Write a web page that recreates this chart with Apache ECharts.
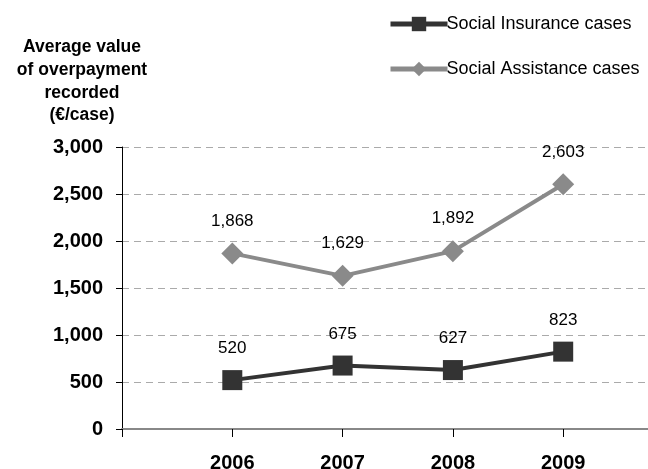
<!DOCTYPE html>
<html><head><meta charset="utf-8">
<script src="https://cdn.jsdelivr.net/npm/echarts@6/dist/echarts.min.js"></script>
<style>html,body{margin:0;padding:0;background:#fff}#c{width:648px;height:469px}</style>
</head><body><div id="c"></div>
<script>
const years = ['2006', '2007', '2008', '2009'];
const insurance = [520, 675, 627, 823];
const assistance = [1868, 1629, 1892, 2603];
const yTicks = [0, 500, 1000, 1500, 2000, 2500, 3000];
const seriesNames = ['Social Insurance cases', 'Social Assistance cases'];
const yTitle = 'Average value\nof overpayment\nrecorded\n(€/case)';

const cats = [''].concat(years).concat(['']);
const fmt = v => String(v).replace(/\B(?=(\d{3})+(?!\d))/g, ',');
const FF = 'Liberation Sans, Arial, sans-serif';
const chart = echarts.init(document.getElementById('c'));
chart.setOption({
  animation: false,
  textStyle: { fontFamily: FF },
  title: {
    text: yTitle, left: 77, top: 31, textAlign: 'center',
    textStyle: { fontSize: 17.5, fontWeight: 'bold', color: '#000', lineHeight: 22.7, fontFamily: FF }
  },
  legend: {
    orient: 'vertical', left: 383, top: 10, itemGap: 27, itemWidth: 57, itemHeight: 18,
    textStyle: { fontSize: 18, color: '#000', padding: [0, 0, 0, -6] },
    data: [
      { name: seriesNames[0], itemStyle: { color: '#333' }, lineStyle: { width: 5 } },
      { name: seriesNames[1], itemStyle: { color: '#8a8a8a' }, lineStyle: { width: 5 } }
    ]
  },
  grid: { left: 122, right: -25.5, top: 147, bottom: 40, outerBoundsMode: 'none', containLabel: false },
  xAxis: {
    type: 'category', data: cats, boundaryGap: false,
    axisLine: { lineStyle: { color: '#888', width: 2 } },
    axisTick: { show: true, length: 8, lineStyle: { color: '#000', width: 1 } },
    axisLabel: { interval: 0, margin: 24, fontSize: 20, fontWeight: 'bold', color: '#000' },
    splitLine: { show: false }
  },
  yAxis: {
    type: 'value', min: yTicks[0], max: yTicks[yTicks.length - 1], interval: yTicks[1] - yTicks[0],
    axisLine: { show: true, lineStyle: { color: '#000', width: 1 } },
    axisTick: { show: true, length: 6, lineStyle: { color: '#000' } },
    axisLabel: { margin: 19, fontSize: 20, fontWeight: 'bold', color: '#000', formatter: v => fmt(v) },
    splitLine: { show: true, lineStyle: { color: '#aaa', type: [7, 5], width: 1 } }
  },
  series: [
    {
      name: seriesNames[0], type: 'line',
      data: years.map((y, i) => [y, insurance[i]]),
      symbol: 'rect', symbolSize: 20,
      itemStyle: { color: '#333' }, lineStyle: { color: '#333', width: 4 },
      label: { show: true, position: 'top', distance: 13, fontSize: 17, color: '#000', formatter: p => fmt(p.value[1]) },
      z: 3
    },
    {
      name: seriesNames[1], type: 'line',
      data: years.map((y, i) => [y, assistance[i]]),
      symbol: 'diamond', symbolSize: 22,
      itemStyle: { color: '#8a8a8a' }, lineStyle: { color: '#8a8a8a', width: 4 },
      label: { show: true, position: 'top', distance: 13, fontSize: 17, color: '#000', formatter: p => fmt(p.value[1]) },
      z: 3
    }
  ]
});
</script></body></html>
